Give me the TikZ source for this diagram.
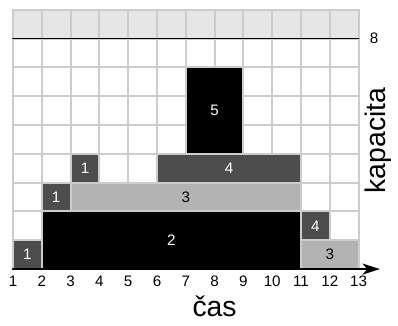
\documentclass[tikz,border=0pt]{standalone}
\usepackage{fontspec}
\setmainfont{Liberation Sans}
\usetikzlibrary{arrows.meta}
\definecolor{mrizka}{HTML}{CCCCCC}
\definecolor{horni}{HTML}{E6E6E6}
\definecolor{tmava}{HTML}{4D4D4D}
\definecolor{svetla}{HTML}{B3B3B3}
\tikzset{
  blok/.style={draw=mrizka, line width=2pt},
  cerny/.style={blok, fill=black},
  tmavy/.style={blok, fill=tmava},
  svetly/.style={blok, fill=svetla},
  cislo/.style={font=\fontsize{15}{15}\selectfont}
}
\begin{document}
\begin{tikzpicture}[scale=1, line join=round, line cap=round, >={Stealth[length=6mm,width=3.8mm,inset=1.6mm]}]
	\useasboundingbox (0.549,-1.97) rectangle (14.368,9.343);
	% mrizka a horni pas
	\fill[horni] (1,8) rectangle (13,9);
	\draw[mrizka, line width=2pt] (1,0) grid (13,9);
	% ulohy
	\draw[tmavy]  (1,0) rectangle (2,1)  node[midway,white,cislo] (u1a) {1};
	\draw[cerny]  (2,0) rectangle (11,2) node[midway,white,cislo] (u2) {2};
	\draw[tmavy]  (2,2) rectangle (3,3)  node[midway,white,cislo] (u1b) {1};
	\draw[svetly] (3,2) rectangle (11,3) node[midway,cislo] (u3a) {3};
	\draw[tmavy]  (3,3) rectangle (4,4)  node[midway,white,cislo] (u1c) {1};
	\draw[tmavy]  (6,3) rectangle (11,4) node[midway,white,cislo] (u4a) {4};
	\draw[cerny]  (7,4) rectangle (9,7)  node[midway,white,cislo] (u5) {5};
	\draw[tmavy]  (11,1) rectangle (12,2) node[midway,white,cislo] (u4b) {4};
	\draw[svetly] (11,0) rectangle (13,1) node[midway,cislo] (u3b) {3};
	% kapacita 8
	\draw[line width=1.6pt] (1,8) -- (13,8) node[right=0.25cm,cislo] (k8) {8};
	% casova osa
	\draw[->,line width=2pt] (1,0) -- (13.74,0);
	\foreach \t in {1,...,13}
		\node[cislo] (t\t) at (\t,-0.42) {\t};
	\node[font=\fontsize{28}{28}\selectfont] (cas) at (8,-1.3) {čas};
	\node[font=\fontsize{28}{28}\selectfont, rotate=90] (kap) at (13.67,4.46) {kapacita};
\end{tikzpicture}
\end{document}
